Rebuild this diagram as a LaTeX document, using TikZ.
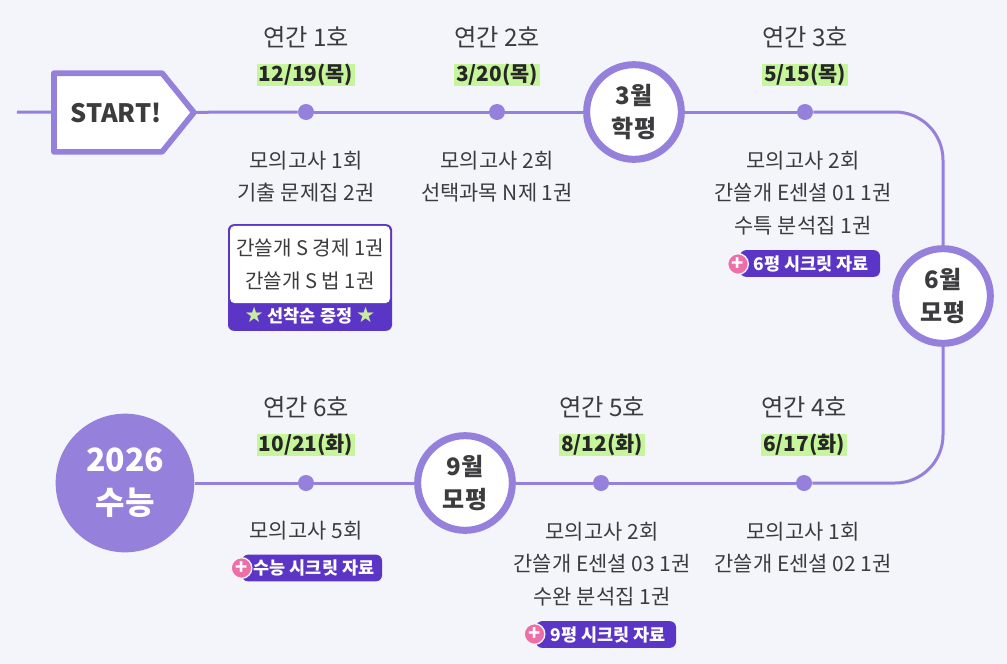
\documentclass[tikz,border=0pt]{standalone}
\usepackage{xcolor}
\usepackage{fontspec}
\setmainfont{Noto Sans CJK KR}
\newfontfamily\starfont{DejaVu Sans}
\usetikzlibrary{shapes.symbols}
\definecolor{bgc}{HTML}{F4F5FA}
\definecolor{trackc}{HTML}{9580DB}
\definecolor{deepc}{HTML}{5B35C5}
\definecolor{limec}{HTML}{C6F59C}
\definecolor{starc}{HTML}{C9EB9F}
\definecolor{pinkc}{HTML}{EE6FA8}
\definecolor{inkc}{HTML}{3C3C3E}
\tikzstyle{track} = [draw=trackc, line width=2.25pt]
\tikzstyle{ho} = [inkc, align=center, inner sep=0pt, font=\fontsize{18.2}{22}\selectfont]
\tikzstyle{dday} = [fill=limec, text=black!85, inner xsep=1.5pt, inner ysep=0pt, minimum height=16.5pt, font=\fontsize{15.6}{18}\selectfont\bfseries]
\tikzstyle{body} = [inkc, align=center, inner sep=0pt, font=\fontsize{15.7}{24.4}\selectfont]
\tikzstyle{dot} = [circle, fill=trackc, inner sep=0pt, minimum size=12pt]
\tikzstyle{exam} = [circle, draw=trackc, fill=white, line width=5.25pt, inner sep=0pt, minimum size=71pt, align=center, text=inkc, font=\fontsize{18}{25}\selectfont\bfseries]
\tikzstyle{pill} = [rectangle, rounded corners=4.5pt, fill=deepc, text=white, inner sep=0pt, minimum width=105pt, minimum height=20pt, font=\fontsize{13.1}{15}\selectfont\bfseries]
\tikzstyle{plus} = [circle, fill=pinkc, draw=bgc, line width=1pt, text=white, inner sep=0pt, minimum size=15.5pt, font=\fontsize{15}{15}\selectfont\bfseries]
\begin{document}
\begin{tikzpicture}[x=0.75pt,y=-0.75pt]
\useasboundingbox (0,0) rectangle (1007,664);
\fill[bgc] (0,0) rectangle (1007,664);

% start and exam circles
\coordinate (tail) at (17,112);
\node [signal, signal to=east, signal from=nowhere, signal pointer angle=102, draw=trackc, fill=white, line width=4.25pt, line join=round, outer sep=0pt, minimum width=105pt, minimum height=59pt, inner sep=0pt] (start) at (108,112.5) {};
\node [inkc, inner sep=0pt, font=\fontsize{19}{22}\selectfont\bfseries] (starttext) at (116,112.5) {START!};
\node [exam] (mar) at (634,112) {3월\\학평};
\node [exam] (jun) at (943,296) {6월\\모평};
\node [exam] (sep) at (465,483) {9월\\모평};
\node [circle, fill=trackc, inner sep=0pt, minimum size=104pt, align=center, text=white, font=\fontsize{24}{32}\selectfont\bfseries] (csat) at (125,483) {2026\\수능};

% top row
\node [dot] (dot1) at (306,112) {};
\node [dot] (dot2) at (497,112) {};
\node [dot] (dot3) at (805,112) {};
\node [ho] (ho1) at (306,37) {연간 1호};
\node [ho] (ho2) at (497,37) {연간 2호};
\node [ho] (ho3) at (805,37) {연간 3호};
\node [dday] (day1) at (306,75) {12/19(목)};
\node [dday] (day2) at (497,75) {3/20(목)};
\node [dday] (day3) at (805,75) {5/15(목)};
\node [body] (body1) at (306,176.5) {모의고사 1회\\기출 문제집 2권};
\node [body] (body2) at (497,176.5) {모의고사 2회\\선택과목 N제 1권};
\node [body] (body3) at (803,193) {모의고사 2회\\간쓸개 E센셜 01 1권\\수특 분석집 1권};

% gift box
\node [rectangle, rounded corners=4.5pt, fill=deepc, minimum width=123pt, minimum height=80pt, inner sep=0pt] (giftbox) at (310,277.5) {};
\node [rectangle, rounded corners=3.5pt, fill=white, minimum width=120pt, minimum height=58pt, inner sep=0pt, align=center, text=inkc, font=\fontsize{15.1}{24.6}\selectfont] (gifttext) at (310,264.5) {간쓸개 S 경제 1권\\간쓸개 S 법 1권};
\node [text=white, inner sep=0pt, font=\fontsize{13.1}{15}\selectfont\bfseries] (giftband) at (310,316) {{\starfont\fontsize{16}{15}\selectfont\color{starc}★}\hspace{3pt}선착순 증정\hspace{3pt}{\starfont\fontsize{16}{15}\selectfont\color{starc}★}};

\node [pill] (pill6) at (810,263.5) {\hspace*{2pt}6평 시크릿 자료};
\node [plus] (plus6) at (738,264) {+};

% bottom row
\node [dot] (dot6) at (306,483) {};
\node [dot] (dot5) at (601,483) {};
\node [dot] (dot4) at (804,483) {};
\node [ho] (ho6) at (306,407) {연간 6호};
\node [ho] (ho5) at (602,407) {연간 5호};
\node [ho] (ho4) at (804,407) {연간 4호};
\node [dday] (day6) at (306,445) {10/21(화)};
\node [dday] (day5) at (602,445) {8/12(화)};
\node [dday] (day4) at (804,445) {6/17(화)};
\node [body] (body6) at (306,531) {모의고사 5회};
\node [body] (body5) at (602,564) {모의고사 2회\\간쓸개 E센셜 03 1권\\수완 분석집 1권};
\node [body] (body4) at (803,547.5) {모의고사 1회\\간쓸개 E센셜 02 1권};

\node [pill] (pillcsat) at (312,568) {\hspace*{3pt}수능 시크릿 자료};
\node [plus] (pluscsat) at (241.5,568) {+};
\node [pill] (pill9) at (606,634.5) {\hspace*{3pt}9평 시크릿 자료};
\node [plus] (plus9) at (534.5,634) {+};

% connectors
\draw [track] (tail) -- (start);
\draw [track] (start) -- (dot1);
\draw [track] (dot1) -- (dot2);
\draw [track] (dot2) -- (mar);
\draw [track] (mar) -- (dot3);
\draw [track, rounded corners=36pt] (dot3) -| (jun);
\draw [track, rounded corners=36pt] (jun) |- (dot4);
\draw [track] (dot4) -- (dot5);
\draw [track] (dot5) -- (sep);
\draw [track] (sep) -- (dot6);
\draw [track] (dot6) -- (csat);
\end{tikzpicture}
\end{document}
